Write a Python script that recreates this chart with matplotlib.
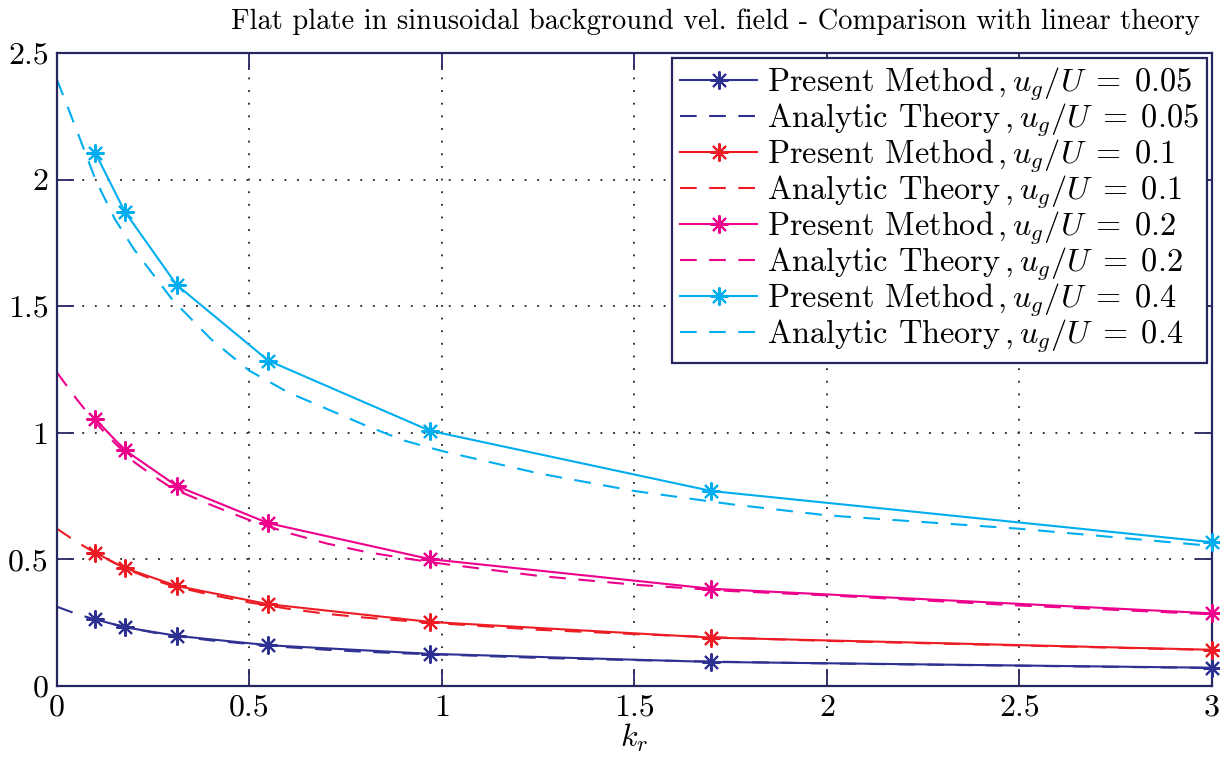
import matplotlib
matplotlib.use("Agg")
import matplotlib.pyplot as plt

plt.rcParams["font.family"] = ["cmr10", "DejaVu Serif"]
plt.rcParams["mathtext.fontset"] = "cm"
plt.rcParams["axes.formatter.use_mathtext"] = True

# Reduced frequency at which the present method was run
kr_method = [0.1, 0.176, 0.311, 0.549, 0.969, 1.70, 3.0]

# Present method results for each gust amplitude u_g/U
method_005 = [0.263, 0.232, 0.198, 0.161, 0.127, 0.095, 0.072]
method_010 = [0.526, 0.466, 0.395, 0.323, 0.253, 0.191, 0.143]
method_020 = [1.053, 0.932, 0.790, 0.643, 0.501, 0.384, 0.287]
method_040 = [2.104, 1.874, 1.584, 1.285, 1.008, 0.770, 0.568]

# Linear (analytic) theory
kr_theory = [0, 0.05, 0.1, 0.15, 0.2, 0.25, 0.3, 0.4, 0.5, 0.6, 0.7, 0.8, 0.9,
             1.0, 1.25, 1.5, 1.75, 2.0, 2.5, 3.0]
theory_005 = [0.313, 0.285, 0.262, 0.243, 0.226, 0.211, 0.199, 0.180, 0.166,
              0.153, 0.143, 0.135, 0.129, 0.124, 0.111, 0.102, 0.095, 0.089,
              0.080, 0.071]
theory_010 = [0.621, 0.570, 0.525, 0.485, 0.450, 0.420, 0.395, 0.360, 0.330,
              0.305, 0.285, 0.270, 0.258, 0.247, 0.222, 0.205, 0.190, 0.178,
              0.160, 0.142]
theory_020 = [1.238, 1.135, 1.040, 0.960, 0.885, 0.830, 0.780, 0.715, 0.655,
              0.605, 0.563, 0.530, 0.505, 0.483, 0.435, 0.400, 0.375, 0.358,
              0.318, 0.283]
theory_040 = [2.395, 2.200, 2.000, 1.845, 1.725, 1.625, 1.525, 1.370, 1.245,
              1.160, 1.095, 1.030, 0.970, 0.928, 0.840, 0.770, 0.718, 0.674,
              0.621, 0.553]

amplitudes = ["0.05", "0.1", "0.2", "0.4"]
colors = ["#2E3192", "#ED1C24", "#EC008C", "#00AEEF"]
method_series = [method_005, method_010, method_020, method_040]
theory_series = [theory_005, theory_010, theory_020, theory_040]

frame_color = "#262660"

fig = plt.figure(figsize=(12.2, 7.65), dpi=100)
ax = fig.add_axes([0.0467, 0.1033, 0.9467, 0.8274])

asterisk = (8, 2, 0)
for amp, col, ym, yt in zip(amplitudes, colors, method_series, theory_series):
    ax.plot(kr_method, ym, color=col, lw=1.5, marker=asterisk, ms=13, mew=1.5,
            label=r"Present Method$\,,u_g/U\;=\;%s$" % amp, clip_on=False, zorder=3)
    ax.plot(kr_theory, yt, color=col, lw=1.5, ls=(0, (8, 6)),
            label=r"Analytic Theory$\,,u_g/U\;=\;%s$" % amp, zorder=2)

ax.set_xlim(0, 3)
ax.set_ylim(0, 2.5)
ax.set_xticks([0, 0.5, 1, 1.5, 2, 2.5, 3])
ax.set_yticks([0, 0.5, 1, 1.5, 2, 2.5])
ax.set_xticklabels(["0", "0.5", "1", "1.5", "2", "2.5", "3"])
ax.set_yticklabels(["0", "0.5", "1", "1.5", "2", "2.5"])

ax.grid(True, color="#222222", ls=(0, (1, 6)), lw=1.3)
ax.tick_params(direction="in", length=12, width=1.3, color=frame_color,
               top=True, right=True, labelsize=23, pad=6)
for sp in ax.spines.values():
    sp.set_color(frame_color)
    sp.set_linewidth(1.6)

ax.set_xlabel(r"$k_r$", fontsize=23, labelpad=0)
ax.set_title("Flat plate in sinusoidal background vel. field - Comparison with linear theory",
             fontsize=20.5, pad=17, x=0.57)

leg = ax.legend(loc="upper right", fontsize=23.3, handlelength=2.4,
                handletextpad=0.3, labelspacing=-0.04, borderpad=0.25,
                borderaxespad=0.15, fancybox=False, framealpha=1)
leg.get_frame().set_edgecolor(frame_color)
leg.get_frame().set_linewidth(1.6)

fig.savefig("out.png", dpi=100)
